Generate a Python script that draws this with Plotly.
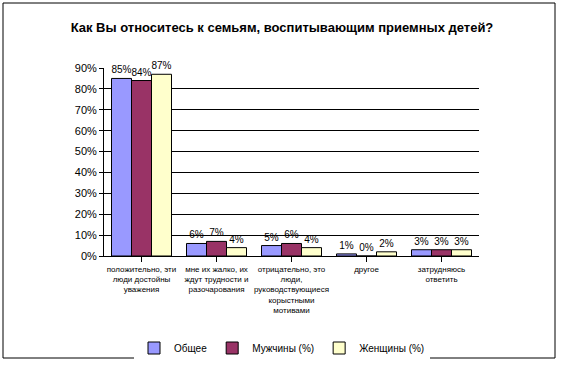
import plotly.graph_objects as go

categories = [
    "положительно, эти<br>люди достойны<br>уважения",
    "мне их жалко, их<br>ждут трудности и<br>разочарования",
    "отрицательно, это<br>люди,<br>руководствующиеся<br>корыстными<br>мотивами",
    "другое",
    "затрудняюсь<br>ответить",
]
series_names = ["Общее", "Мужчины (%)", "Женщины (%)"]
obshee = [0.85, 0.06, 0.05, 0.01, 0.03]
muzhchiny = [0.84, 0.07, 0.06, 0.00, 0.03]
zhenshchiny = [0.87, 0.04, 0.04, 0.02, 0.03]
colors = ["#9999FF", "#993366", "#FFFFCC"]

W, H = 564, 367
L, R, T, B = 104, 85, 68, 111
PW, PH = W - L - R, H - T - B

fig = go.Figure()
for name, vals, col in zip(series_names, [obshee, muzhchiny, zhenshchiny], colors):
    fig.add_trace(go.Bar(
        x=categories, y=vals, name=name,
        marker=dict(color=col, line=dict(color="black", width=1)),
        text=[f"{round(v*100)}%" for v in vals],
        textposition="outside",
        constraintext="none",
        textfont=dict(family="Liberation Sans, Arial", size=10, color="black"),
        cliponaxis=False,
    ))

border = dict(xref="paper", yref="paper", line=dict(color="black", width=1), layer="above")
RX, BY = 555, 358
fig.update_layout(
    width=W, height=H,
    margin=dict(l=L, r=R, t=T, b=B, autoexpand=False),
    paper_bgcolor="white", plot_bgcolor="white",
    barmode="group", bargap=0.2, bargroupgap=0,
    font=dict(family="Liberation Sans, Arial", size=8, color="black"),
    title=dict(text="<b>Как Вы относитесь к семьям, воспитывающим приемных детей?</b>",
               x=0.5, xref="container", xanchor="center", y=1 - 27 / H, yref="container",
               yanchor="middle",
               font=dict(size=13, family="Liberation Sans, Arial", color="black")),
    showlegend=True,
    legend=dict(orientation="h", x=0.5, xref="container", xanchor="center",
                y=1 - 348 / H, yref="container", yanchor="middle",
                font=dict(size=10), traceorder="normal", itemwidth=30),
    xaxis=dict(showline=True, linecolor="black", linewidth=1, ticks="outside",
               ticklen=5, tickcolor="black", tickangle=0, automargin=False,
               tickfont=dict(size=8)),
    yaxis=dict(range=[0, 0.9], dtick=0.1, tickformat=".0%", showline=True,
               linecolor="black", linewidth=1, ticks="outside", ticklen=4,
               tickcolor="black", showgrid=True, gridcolor="black", gridwidth=1,
               zeroline=False, automargin=False, tickfont=dict(size=11)),
    shapes=[
        dict(type="line", x0=(3 - L) / PW, x1=(RX - L) / PW,
             y0=(H - B - 3) / PH, y1=(H - B - 3) / PH, **border),
        dict(type="line", x0=(3 - L) / PW, x1=(RX - L) / PW,
             y0=(H - B - BY) / PH, y1=(H - B - BY) / PH, **border),
        dict(type="line", x0=(3 - L) / PW, x1=(3 - L) / PW,
             y0=(H - B - 3) / PH, y1=(H - B - BY) / PH, **border),
        dict(type="line", x0=(RX - L) / PW, x1=(RX - L) / PW,
             y0=(H - B - 3) / PH, y1=(H - B - BY) / PH, **border),
    ],
)

fig.write_html("out.html", config={"displayModeBar": False},
               post_script="document.body.style.margin='0';document.body.style.overflow='hidden';")
